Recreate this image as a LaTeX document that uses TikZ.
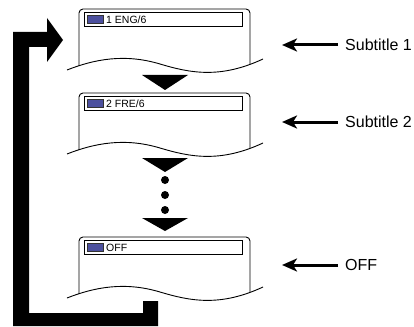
\documentclass[tikz,border=0pt]{standalone}
\usepackage{fontspec}
\setmainfont{Liberation Sans}
\usetikzlibrary{arrows.meta}
\definecolor{osdblue}{RGB}{76,80,158}
\tikzset{
  scrtext/.style={anchor=base west, inner sep=0pt, font=\fontsize{10.5}{12}\selectfont},
  lab/.style={anchor=west, inner xsep=7pt, inner ysep=0pt, font=\fontsize{16}{18}\selectfont},
  rarrow/.style={line width=3pt, -{Stealth[length=15pt,width=13pt,inset=4pt]}},
  tri/.style={fill=black},
  bigarrow/.style={fill=black},
  screenline/.style={line width=0.9pt},
}
\newcommand\myscreen[3]{%
  \begin{scope}[yshift=-#1pt]
    \begin{scope}
      \clip (67,61) .. controls (95,50) and (125,44.5) .. (160,55)
            .. controls (190,64) and (220,70) .. (263,50) -- (263,-5) -- (67,-5) -- cycle;
      \draw[screenline, rounded corners=4pt] (79,90) -- (79,0) -- (250,0) -- (250,90);
    \end{scope}
    \draw[screenline] (67,61) .. controls (95,50) and (125,44.5) .. (160,55)
            .. controls (190,64) and (220,70) .. (263,50);
    \draw[line width=0.8pt] (84,3.5) rectangle (242,17.5);
    \draw[fill=osdblue, draw=black!80, line width=0.5pt] (87,6.5) rectangle (103,14.5);
    \node[scrtext] (#3) at (106,14.5) {#2};
  \end{scope}}
\begin{document}
\begin{tikzpicture}[x=1pt,y=-1pt]
\useasboundingbox (0,0) rectangle (414,326);
\fill[white] (0,0) rectangle (414,326);
% screens
\myscreen{9}{1 ENG/6}{s1}
\myscreen{93}{2 FRE/6}{s2}
\myscreen{237}{OFF}{s3}
% down triangles
\fill[tri] (142,75) -- (188,75) -- (165,90) -- cycle;
\fill[tri] (142,158) -- (188,158) -- (165,172) -- cycle;
\fill[tri] (142,218) -- (188,218) -- (165,231) -- cycle;
\fill (165,180) circle (4);
\fill (165,195) circle (4);
\fill (165,210) circle (4);
% big loop arrow
\fill[bigarrow] (63,40) -- (47,18) -- (47,32) -- (13,32) -- (13,326) -- (158,326)
  -- (158,301) -- (143,301) -- (143,313) -- (29,313) -- (29,47) -- (47,47) -- (47,62) -- cycle;
% right labels
\coordinate (tip1) at (282,45);
\coordinate (tip2) at (282,122);
\coordinate (tip3) at (282,265);
\node[lab] (l1) at (338,45) {Subtitle 1};
\node[lab] (l2) at (338,122) {Subtitle 2};
\node[lab] (l3) at (338,265) {OFF};
\draw[rarrow] (l1.west) -- (tip1);
\draw[rarrow] (l2.west) -- (tip2);
\draw[rarrow] (l3.west) -- (tip3);
\end{tikzpicture}
\end{document}
